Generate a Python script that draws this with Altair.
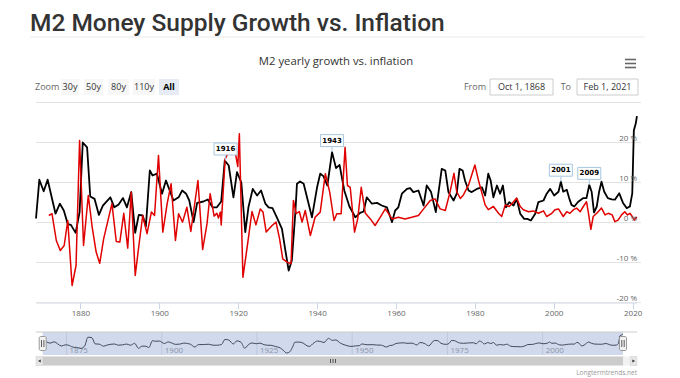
import altair as alt
import pandas as pd

# ---------------- data ----------------
m2_year = [1868.75, 1869.6, 1870.7, 1871.7, 1873.7, 1874.8, 1875.8, 1876.8, 1877.6, 1878.8,
           1879.8, 1880.6, 1881.7, 1882.5, 1883.6, 1884.7, 1885.7, 1887.6, 1888.6, 1889.7,
           1890.8, 1891.8, 1892.9, 1893.9, 1894.8, 1895.8, 1896.6, 1897.6, 1898.3, 1899.4,
           1900.7, 1901.7, 1902.8, 1903.6, 1904.9, 1905.8, 1906.8, 1907.6, 1908.7, 1909.6,
           1911.2, 1912.3, 1913.5, 1914.6, 1915.7, 1916.6, 1917.6, 1918.8, 1919.7, 1920.8,
           1921.8, 1922.6, 1923.7, 1924.8, 1925.8, 1926.9, 1927.7, 1928.7, 1929.8, 1931.1,
           1931.9, 1932.8, 1933.6, 1934.5, 1934.9, 1935.7, 1936.6, 1938.7, 1940.0, 1940.8,
           1941.6, 1942.6, 1943.8, 1944.8, 1945.7, 1946.9, 1948.2, 1949.7, 1950.9, 1951.8,
           1952.6, 1953.9, 1955.2, 1956.4, 1957.7, 1959.0, 1959.8, 1960.6, 1961.5, 1962.8,
           1963.6, 1964.4, 1965.7, 1967.0, 1967.8, 1968.9, 1970.1, 1971.6, 1972.5, 1973.3,
           1974.6, 1975.4, 1976.1, 1976.9, 1977.5, 1978.4, 1979.2, 1980.5, 1981.8, 1982.6,
           1983.4, 1984.0, 1984.7, 1985.6, 1986.4, 1987.1, 1987.9, 1988.7, 1989.8, 1990.6,
           1991.5, 1992.5, 1993.3, 1994.2, 1995.3, 1996.1, 1997.4, 1998.2, 1999.1, 2000.1,
           2001.2, 2001.8, 2002.4, 2003.3, 2003.9, 2004.5, 2005.2, 2006.2, 2007.5, 2008.3,
           2009.0, 2009.6, 2010.2, 2010.9, 2011.5, 2012.1, 2012.8, 2013.7, 2014.7, 2015.5,
           2016.6, 2017.6, 2018.5, 2019.3, 2019.9, 2020.3, 2020.8, 2021.08]
m2_growth = [1.0, 10.7, 7.8, 10.7, 2.2, 4.7, 3.0, -0.4, -0.6, -2.6,
             2.6, 20.0, 18.8, 6.5, 5.9, 1.9, 4.2, 6.3, 3.8, 4.5,
             6.1, 3.8, 7.6, -2.6, 1.9, 1.75, -1.0, 13.0, 11.75, 12.2,
             7.2, 10.5, 7.6, 5.5, 6.3, 8.0, 7.2, 5.5, 0.1, 4.9,
             5.25, 5.75, 3.8, 3.8, 5.25, 15.5, 14.25, 6.3, 12.6, 10.0,
             -2.4, 3.8, 8.4, 6.75, 8.0, 4.7, 3.8, 3.6, 1.3, -1.6,
             -6.6, -12.0, -9.5, 2.6, 9.7, 10.25, 9.7, 1.3, 8.8, 12.2,
             11.6, 9.25, 17.6, 13.6, 14.4, 8.0, 4.0, 1.3, 2.4, 2.75,
             6.3, 4.7, 4.9, 4.25, 3.8, 0.1, 3.0, 3.8, 7.2, 8.4,
             8.6, 7.6, 8.0, 4.25, 9.25, 7.6, 2.6, 13.4, 13.0, 7.6,
             5.5, 7.2, 13.4, 13.0, 10.5, 8.0, 7.6, 8.4, 8.8, 6.75,
             12.2, 10.5, 6.3, 9.25, 7.2, 9.25, 3.8, 5.1, 4.25, 5.9,
             2.2, 0.9, 0.9, 0.5, 2.2, 5.1, 5.5, 7.2, 8.4, 6.75,
             7.7, 10.2, 7.7, 8.2, 6.1, 4.4, 4.0, 5.2, 6.1, 6.1,
             9.4, 7.7, 2.5, 4.0, 7.7, 10.2, 7.7, 6.1, 5.8, 5.7,
             7.3, 4.8, 3.6, 4.0, 7.3, 23.0, 24.8, 26.6]

cpi_year = [1872.0, 1872.8, 1873.9, 1874.9, 1875.9, 1876.8, 1877.9, 1878.9, 1879.8, 1880.8,
            1882.0, 1883.0, 1884.0, 1884.9, 1885.9, 1888.0, 1889.1, 1890.0, 1891.0, 1892.0,
            1892.9, 1893.9, 1894.8, 1895.8, 1896.9, 1898.0, 1898.8, 1899.8, 1900.9, 1902.0,
            1903.0, 1904.1, 1904.9, 1905.9, 1907.0, 1908.0, 1909.8, 1911.0, 1912.1, 1912.9,
            1913.9, 1914.6, 1915.0, 1915.5, 1915.7, 1916.7, 1917.6, 1918.4, 1919.3, 1919.9,
            1920.3, 1921.2, 1922.4, 1923.5, 1924.5, 1925.6, 1926.3, 1927.1, 1928.6, 1929.6,
            1930.5, 1931.3, 1932.4, 1933.4, 1934.0, 1934.7, 1935.5, 1936.2, 1937.0, 1938.3,
            1939.5, 1940.8, 1942.1, 1943.2, 1944.3, 1945.0, 1946.1, 1947.1, 1947.7, 1948.4,
            1949.5, 1950.3, 1951.2, 1952.2, 1953.5, 1954.7, 1956.0, 1957.3, 1959.0, 1960.6,
            1962.3, 1964.0, 1965.7, 1967.0, 1968.7, 1969.9, 1971.2, 1972.5, 1973.7, 1974.7,
            1975.4, 1976.3, 1977.1, 1978.4, 1979.2, 1980.0, 1980.9, 1981.7, 1982.6, 1983.4,
            1984.7, 1986.0, 1986.8, 1987.7, 1988.7, 1989.8, 1990.6, 1991.5, 1992.3, 1993.6,
            1994.8, 1996.1, 1997.4, 1998.2, 1999.5, 2000.3, 2001.2, 2002.4, 2003.3, 2004.1,
            2005.0, 2005.8, 2006.7, 2007.5, 2008.3, 2008.8, 2009.4, 2010.0, 2010.9, 2012.1,
            2013.0, 2013.8, 2014.8, 2015.5, 2016.3, 2017.2, 2018.0, 2018.7, 2019.3, 2019.9,
            2020.4, 2021.08]
cpi_inflation = [1.75, 2.2, -4.5, -7.0, -5.75, 0.5, -15.75, -10.75, 20.5, -5.75,
                 6.75, -1.2, -7.4, -10.2, -4.1, 4.7, -4.75, -4.9, 2.3, -6.4,
                 7.6, -13.25, -6.0, 1.75, -2.8, 2.6, 1.75, 16.75, -2.4, 4.7,
                 9.7, -4.5, 2.2, 0.1, 3.8, -2.25, 10.5, -6.75, -0.3, 7.2,
                 1.6, 2.3, 1.1, 2.6, -0.6, 15.9, 17.6, 17.0, 17.3, 14.0,
                 22.2, -13.7, -5.3, 2.75, -0.6, 3.4, 2.6, -2.4, -0.75, 0.1,
                 -4.1, -9.1, -9.9, -10.3, 5.5, 2.2, 2.75, 0.1, 3.0, -3.25,
                 1.3, 2.6, 12.2, 7.6, 0.5, 2.2, 2.2, 18.8, 9.25, 8.8,
                 -2.4, 0.9, 8.8, 2.4, 0.9, -0.75, 1.3, 3.4, 0.9, 1.3,
                 0.9, 1.3, 1.75, 3.4, 5.5, 5.9, 3.4, 3.0, 7.6, 12.3,
                 7.7, 6.0, 6.9, 9.4, 11.9, 14.4, 10.6, 7.7, 4.4, 3.2,
                 4.0, 2.3, 1.5, 4.4, 4.0, 5.2, 6.1, 4.0, 3.2, 2.7,
                 2.9, 2.3, 2.9, 1.5, 2.3, 3.2, 3.4, 1.5, 2.7, 2.3,
                 3.2, 3.6, 2.7, 4.0, 5.2, 2.3, -1.7, 1.5, 2.3, 3.6,
                 1.9, 2.3, 1.9, 0.2, 0.6, 1.9, 2.7, 1.9, 2.3, 1.5,
                 0.6, 1.4]

flag_year = [1916.8, 1943.8, 2001.8, 2009.0]
flag_value = [15.5, 17.6, 10.2, 9.4]
flag_text = ["1916", "1943", "2001", "2009"]

x_ticks = [1880, 1900, 1920, 1940, 1960, 1980, 2000, 2020]
y_grid = [-20, -10, 0, 10, 20, 30]
y_labelled = [-20, -10, 0, 10, 20]
nav_ticks = [1875, 1900, 1925, 1950, 1975, 2000]
zoom_buttons = ["30y", "50y", "80y", "110y", "All"]
range_from = "Oct 1, 1868"
range_to = "Feb 1, 2021"
title_text = "M2 Money Supply Growth vs. Inflation"
subtitle_text = "M2 yearly growth vs. inflation"
credit_text = "Longtermtrends.net"
x_domain = [1868.75, 2021.1]
y_domain = [-20, 30]

# ---------------- styling ----------------
W, H = 601, 200
RED = "#e10000"
UI_FONT = "Open Sans"
FLAG_COLOR = "#a6c6e0"

df_m2 = pd.DataFrame({"year": m2_year, "value": m2_growth})
df_cpi = pd.DataFrame({"year": cpi_year, "value": cpi_inflation})
df_flags = pd.DataFrame({"year": flag_year, "value": flag_value, "label": flag_text})
df_nav = pd.DataFrame({"year": nav_ticks, "label": [str(v) for v in nav_ticks]})
df_grid = pd.DataFrame({"value": y_grid})
df_ylab = pd.DataFrame({"value": y_labelled, "label": [f"{v} %" for v in y_labelled]})

xs = alt.Scale(domain=x_domain, nice=False, zero=False)
ys = alt.Scale(domain=y_domain, nice=False, zero=False)

x_axis = alt.Axis(values=x_ticks, format="d", title=None, grid=False,
                  labelFont=UI_FONT, labelFontSize=8, labelColor="#666666",
                  domainColor="#ccd6eb", tickColor="#ccd6eb", tickSize=6,
                  labelPadding=1, labelFlush=False, labelOverlap=False)

grid = alt.Chart(df_grid).mark_rule(color="#e3e3e3", strokeWidth=1).encode(
    y=alt.Y("value:Q", scale=ys, axis=None), x=alt.value(0), x2=alt.value(W + 4))
ylab = alt.Chart(df_ylab).mark_text(align="right", baseline="alphabetic", dy=-2,
                                    font=UI_FONT, fontSize=8, color="#666666").encode(
    y=alt.Y("value:Q", scale=ys, axis=None), x=alt.value(W), text="label:N")

m2_line = alt.Chart(df_m2).mark_line(color="#000000", strokeWidth=1.8, strokeJoin="round").encode(
    x=alt.X("year:Q", scale=xs, axis=x_axis),
    y=alt.Y("value:Q", scale=ys, axis=None))
cpi_line = alt.Chart(df_cpi).mark_line(color=RED, strokeWidth=1.5, strokeJoin="round").encode(
    x=alt.X("year:Q", scale=xs, axis=x_axis), y=alt.Y("value:Q", scale=ys, axis=None))

RECT_PATH = "M-1,-0.52L1,-0.52L1,0.52L-1,0.52Z"
flag_pole = alt.Chart(df_flags).mark_rule(color=FLAG_COLOR, strokeWidth=1, y2Offset=-5).encode(
    x=alt.X("year:Q", scale=xs, axis=x_axis), y=alt.Y("value:Q", scale=ys, axis=None), y2="value:Q")
flag_box = alt.Chart(df_flags).mark_point(shape=RECT_PATH, size=529, filled=True, fill="white",
                                          stroke=FLAG_COLOR, strokeWidth=1, opacity=1,
                                          yOffset=-11.5).encode(
    x=alt.X("year:Q", scale=xs, axis=x_axis), y=alt.Y("value:Q", scale=ys, axis=None))
flag_lab = alt.Chart(df_flags).mark_text(font="DejaVu Sans", fontSize=7, fontWeight="bold",
                                         color="#000000", dy=-11.5, baseline="middle").encode(
    x=alt.X("year:Q", scale=xs, axis=x_axis), y=alt.Y("value:Q", scale=ys, axis=None),
    text="label:N")

main = alt.layer(grid, m2_line, cpi_line, flag_pole, flag_box, flag_lab, ylab)

# ---------------- navigator ----------------
NAV_TOP, NAV_BOT = 229.5, 252.5
nxs = alt.Scale(domain=x_domain, range=[6.7, 587], nice=False, zero=False)
nys = alt.Scale(domain=[-13, 27.5], range=[251, 231], nice=False, zero=False)
nav_grid = alt.Chart(df_nav).mark_rule(color="#e6e6e6", strokeWidth=1).encode(
    x=alt.X("year:Q", scale=nxs, axis=None), y=alt.value(NAV_TOP), y2=alt.value(NAV_BOT))
nav_lab = alt.Chart(df_nav).mark_text(align="left", dx=3, baseline="alphabetic", font=UI_FONT,
                                      fontSize=8, color="#999999").encode(
    x=alt.X("year:Q", scale=nxs, axis=None), y=alt.value(250.5), text="label:N")
nav_line = alt.Chart(df_m2).mark_line(color="#333333", strokeWidth=1, interpolate="monotone").encode(
    x=alt.X("year:Q", scale=nxs, axis=None), y=alt.Y("value:Q", scale=nys, axis=None))
nav = alt.layer(nav_grid, nav_lab, nav_line)


# ---------------- page decorations (pixel space) ----------------
def px_text(rows, **kw):
    df = pd.DataFrame(rows, columns=["px", "py", "label"])
    return alt.Chart(df).mark_text(**kw).encode(
        x=alt.X("px:Q", scale=None, axis=None), y=alt.Y("py:Q", scale=None, axis=None),
        text="label:N")


def px_rect(rows, **kw):
    df = pd.DataFrame(rows, columns=["px", "px2", "py", "py2"])
    return alt.Chart(df).mark_rect(**kw).encode(
        x=alt.X("px:Q", scale=None, axis=None), x2="px2:Q",
        y=alt.Y("py:Q", scale=None, axis=None), y2="py2:Q")


def px_rule(rows, **kw):
    df = pd.DataFrame(rows, columns=["px", "px2", "py", "py2"])
    return alt.Chart(df).mark_rule(**kw).encode(
        x=alt.X("px:Q", scale=None, axis=None), x2="px2:Q",
        y=alt.Y("py:Q", scale=None, axis=None), y2="py2:Q")


def px_point(rows, **kw):
    df = pd.DataFrame(rows, columns=["px", "py"])
    return alt.Chart(df).mark_point(**kw).encode(
        x=alt.X("px:Q", scale=None, axis=None), y=alt.Y("py:Q", scale=None, axis=None))


deco = []
deco.append(px_text([(-6, -71.5, title_text)], align="left", baseline="alphabetic",
                    font="Roboto", fontSize=24.5, fontWeight=500, color="#333333"))
deco.append(px_rule([(-6, 609, -65.5, -65.5)], color="#e9e9e9", strokeWidth=1))
deco.append(px_text([(300, -40.5, subtitle_text)], align="center", baseline="middle",
                    font=UI_FONT, fontSize=11.3, color="#333333"))
deco.append(px_rule([(589, 600, -43, -43), (589, 600, -39, -39), (589, 600, -35, -35)],
                    color="#666666", strokeWidth=1.6))
# range selector
ROW = -15.5
deco.append(px_text([(-1, ROW, "Zoom")], align="left", baseline="middle", font=UI_FONT,
                    fontSize=9, color="#666666"))
btn_x = [(25, 43), (48, 67), (72, 93), (97, 119), (123, 143)]
deco.append(px_rect([(a, b, ROW - 8, ROW + 8) for a, b in btn_x[:-1]], fill="#f7f7f7"))
deco.append(px_rect([(btn_x[-1][0], btn_x[-1][1], ROW - 8, ROW + 8)], fill="#e6ebf5"))
deco.append(px_text([((a + b) / 2, ROW, t) for (a, b), t in zip(btn_x[:-1], zoom_buttons[:-1])],
                    align="center", baseline="middle", font=UI_FONT, fontSize=9, color="#333333"))
deco.append(px_text([((btn_x[-1][0] + btn_x[-1][1]) / 2, ROW, zoom_buttons[-1])],
                    align="center", baseline="middle", font=UI_FONT, fontSize=9,
                    fontWeight="bold", color="#000000"))
deco.append(px_text([(450, ROW, "From"), (535, ROW, "To")], align="right", baseline="middle",
                    font=UI_FONT, fontSize=9, color="#666666"))
deco.append(px_rect([(454, 517, ROW - 8, ROW + 8), (541, 602, ROW - 8, ROW + 8)],
                    fill="white", stroke="#cccccc", strokeWidth=1))
deco.append(px_text([(485.5, ROW, range_from), (571.5, ROW, range_to)], align="center",
                    baseline="middle", font=UI_FONT, fontSize=9, color="#333333"))
# navigator chrome
deco.append(px_rect([(6.7, 587, NAV_TOP, NAV_BOT)], fill="#6685c2", opacity=0.3))
deco.append(px_rule([(0, 601, NAV_TOP, NAV_TOP)], color="#cccccc", strokeWidth=1))
deco.append(px_rect([(3.2, 10.2, 234, 248), (583.5, 590.5, 234, 248)], fill="#f2f2f2",
                    stroke="#999999", strokeWidth=1, cornerRadius=1.5))
deco.append(px_rule([(5.5, 5.5, 237.5, 244.5), (7.9, 7.9, 237.5, 244.5),
                     (585.8, 585.8, 237.5, 244.5), (588.2, 588.2, 237.5, 244.5)],
                    color="#333333", strokeWidth=0.8))
# scrollbar
deco.append(px_rect([(0, 601, 254, 263)], fill="#f2f2f2"))
deco.append(px_rect([(6.7, 587, 254, 263)], fill="#cccccc"))
deco.append(px_rect([(0, 6.7, 254, 263), (594.3, 601, 254, 263)], fill="#e6e6e6",
                    stroke="#cccccc", strokeWidth=0.5))
deco.append(px_point([(3.4, 258.5)], shape="triangle-left", size=10, filled=True,
                     color="#333333", opacity=1))
deco.append(px_point([(597.7, 258.5)], shape="triangle-right", size=10, filled=True,
                     color="#333333", opacity=1))
deco.append(px_rule([(294.5, 294.5, 256.5, 260.5), (297, 297, 256.5, 260.5),
                     (299.5, 299.5, 256.5, 260.5)], color="#333333", strokeWidth=0.8))
deco.append(px_text([(601, 270, credit_text)], align="right", baseline="middle",
                    font=UI_FONT, fontSize=6.5, color="#999999"))

deco_layer = alt.layer(*deco)

chart = alt.layer(main, nav, deco_layer).resolve_scale(
    x="independent", y="independent"
).properties(
    width=W, height=H,
    padding={"left": 28, "top": 94.5, "right": 35, "bottom": 75.5},
    autosize=alt.AutoSizeParams(type="none"),
    background="white",
).configure_view(stroke=None)

chart.save("out.html", embed_options={"renderer": "svg", "actions": False})
